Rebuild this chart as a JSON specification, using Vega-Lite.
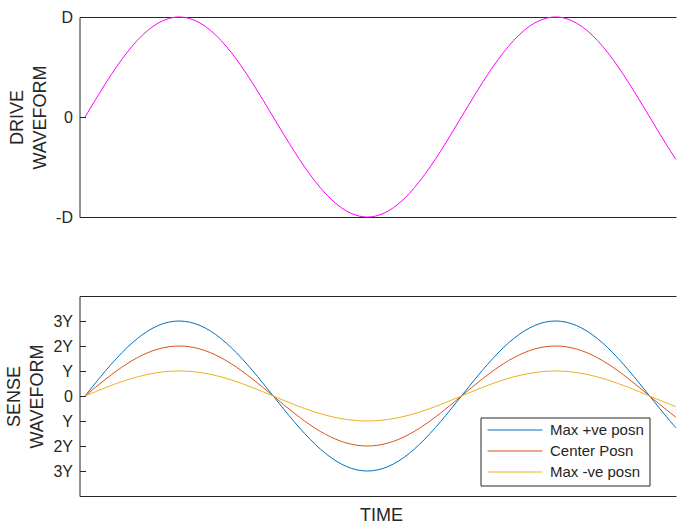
{
  "$schema": "https://vega.github.io/schema/vega-lite/v6.json",
  "padding": {"left": 4.5, "top": 9, "right": 0, "bottom": 0},
  "spacing": 71,
  "config": {
    "view": {"stroke": null},
    "font": "Liberation Sans",
    "axis": {"grid": false, "domainColor": "#262626", "tickColor": "#262626", "labelColor": "#262626", "titleColor": "#262626", "labelFont": "Liberation Sans", "titleFont": "Liberation Sans", "titleFontWeight": "normal", "labelFontSize": 16, "titleFontSize": 18, "labelOverlap": false}
  },
  "datasets": {
    "w": [
      {"t":0,"d":0,"A":0,"B":0,"C":0},
      {"t":10,"d":0.1736,"A":0.5209,"B":0.3473,"C":0.1736},
      {"t":20,"d":0.342,"A":1.0261,"B":0.684,"C":0.342},
      {"t":30,"d":0.5,"A":1.5,"B":1,"C":0.5},
      {"t":40,"d":0.6428,"A":1.9284,"B":1.2856,"C":0.6428},
      {"t":50,"d":0.766,"A":2.2981,"B":1.5321,"C":0.766},
      {"t":60,"d":0.866,"A":2.5981,"B":1.7321,"C":0.866},
      {"t":70,"d":0.9397,"A":2.8191,"B":1.8794,"C":0.9397},
      {"t":80,"d":0.9848,"A":2.9544,"B":1.9696,"C":0.9848},
      {"t":90,"d":1,"A":3,"B":2,"C":1},
      {"t":100,"d":0.9848,"A":2.9544,"B":1.9696,"C":0.9848},
      {"t":110,"d":0.9397,"A":2.8191,"B":1.8794,"C":0.9397},
      {"t":120,"d":0.866,"A":2.5981,"B":1.7321,"C":0.866},
      {"t":130,"d":0.766,"A":2.2981,"B":1.5321,"C":0.766},
      {"t":140,"d":0.6428,"A":1.9284,"B":1.2856,"C":0.6428},
      {"t":150,"d":0.5,"A":1.5,"B":1,"C":0.5},
      {"t":160,"d":0.342,"A":1.0261,"B":0.684,"C":0.342},
      {"t":170,"d":0.1736,"A":0.5209,"B":0.3473,"C":0.1736},
      {"t":180,"d":0,"A":0,"B":0,"C":0},
      {"t":190,"d":-0.1736,"A":-0.5209,"B":-0.3473,"C":-0.1736},
      {"t":200,"d":-0.342,"A":-1.0261,"B":-0.684,"C":-0.342},
      {"t":210,"d":-0.5,"A":-1.5,"B":-1,"C":-0.5},
      {"t":220,"d":-0.6428,"A":-1.9284,"B":-1.2856,"C":-0.6428},
      {"t":230,"d":-0.766,"A":-2.2981,"B":-1.5321,"C":-0.766},
      {"t":240,"d":-0.866,"A":-2.5981,"B":-1.7321,"C":-0.866},
      {"t":250,"d":-0.9397,"A":-2.8191,"B":-1.8794,"C":-0.9397},
      {"t":260,"d":-0.9848,"A":-2.9544,"B":-1.9696,"C":-0.9848},
      {"t":270,"d":-1,"A":-3,"B":-2,"C":-1},
      {"t":280,"d":-0.9848,"A":-2.9544,"B":-1.9696,"C":-0.9848},
      {"t":290,"d":-0.9397,"A":-2.8191,"B":-1.8794,"C":-0.9397},
      {"t":300,"d":-0.866,"A":-2.5981,"B":-1.7321,"C":-0.866},
      {"t":310,"d":-0.766,"A":-2.2981,"B":-1.5321,"C":-0.766},
      {"t":320,"d":-0.6428,"A":-1.9284,"B":-1.2856,"C":-0.6428},
      {"t":330,"d":-0.5,"A":-1.5,"B":-1,"C":-0.5},
      {"t":340,"d":-0.342,"A":-1.0261,"B":-0.684,"C":-0.342},
      {"t":350,"d":-0.1736,"A":-0.5209,"B":-0.3473,"C":-0.1736},
      {"t":360,"d":0,"A":0,"B":0,"C":0},
      {"t":370,"d":0.1736,"A":0.5209,"B":0.3473,"C":0.1736},
      {"t":380,"d":0.342,"A":1.0261,"B":0.684,"C":0.342},
      {"t":390,"d":0.5,"A":1.5,"B":1,"C":0.5},
      {"t":400,"d":0.6428,"A":1.9284,"B":1.2856,"C":0.6428},
      {"t":410,"d":0.766,"A":2.2981,"B":1.5321,"C":0.766},
      {"t":420,"d":0.866,"A":2.5981,"B":1.7321,"C":0.866},
      {"t":430,"d":0.9397,"A":2.8191,"B":1.8794,"C":0.9397},
      {"t":440,"d":0.9848,"A":2.9544,"B":1.9696,"C":0.9848},
      {"t":450,"d":1,"A":3,"B":2,"C":1},
      {"t":460,"d":0.9848,"A":2.9544,"B":1.9696,"C":0.9848},
      {"t":470,"d":0.9397,"A":2.8191,"B":1.8794,"C":0.9397},
      {"t":480,"d":0.866,"A":2.5981,"B":1.7321,"C":0.866},
      {"t":490,"d":0.766,"A":2.2981,"B":1.5321,"C":0.766},
      {"t":500,"d":0.6428,"A":1.9284,"B":1.2856,"C":0.6428},
      {"t":510,"d":0.5,"A":1.5,"B":1,"C":0.5},
      {"t":520,"d":0.342,"A":1.0261,"B":0.684,"C":0.342},
      {"t":530,"d":0.1736,"A":0.5209,"B":0.3473,"C":0.1736},
      {"t":540,"d":0,"A":0,"B":0,"C":0},
      {"t":550,"d":-0.1736,"A":-0.5209,"B":-0.3473,"C":-0.1736},
      {"t":560,"d":-0.342,"A":-1.0261,"B":-0.684,"C":-0.342},
      {"t":565,"d":-0.4226,"A":-1.2679,"B":-0.8452,"C":-0.4226}
    ]
  },
  "vconcat": [
    {
      "width": 596.5,
      "height": 200,
      "data": {"name": "w"},
      "layer": [
        {
          "mark": {"type": "line", "color": "#FF00FF", "strokeWidth": 1, "interpolate": "monotone"},
          "encoding": {
            "x": {"field": "t", "type": "quantitative", "scale": {"domain": [-5.3, 565.2], "nice": false, "zero": false},
                  "axis": {"orient": "bottom", "title": null, "labels": false, "ticks": false, "domain": true}},
            "y": {"field": "d", "type": "quantitative", "scale": {"domain": [-1, 1], "nice": false},
                  "axis": {"values": [-1, 0, 1], "tickCount": 20, "labelOverlap": false, "labelExpr": "datum.value == 1 ? 'D' : datum.value == 0 ? '0' : '-D'", "tickSize": -6, "labelPadding": 13, "title": ["DRIVE", "WAVEFORM"], "titleLineHeight": 23.5, "titlePadding": 6}}
          }
        },
        {
          "mark": {"type": "line", "opacity": 0},
          "encoding": {
            "x": {"field": "t", "type": "quantitative", "axis": {"orient": "top", "title": null, "labels": false, "ticks": false, "domain": true}},
            "y": {"field": "d", "type": "quantitative"}
          }
        }
      ],
      "resolve": {"axis": {"x": "independent"}}
    },
    {
      "width": 596.5,
      "height": 200,
      "data": {"name": "w"},
      "transform": [{"fold": ["A", "B", "C"], "as": ["s", "v"]}],
      "layer": [
        {
          "mark": {"type": "line", "strokeWidth": 1, "interpolate": "monotone"},
          "encoding": {
            "x": {"field": "t", "type": "quantitative", "scale": {"domain": [-5.3, 565.2], "nice": false, "zero": false},
                  "axis": {"orient": "bottom", "title": "TIME", "labels": false, "ticks": false, "domain": true, "titleX": 301.5, "titlePadding": 10}},
            "y": {"field": "v", "type": "quantitative", "scale": {"domain": [-4, 4], "nice": false},
                  "axis": {"values": [-3, -2, -1, 0, 1, 2, 3], "tickCount": 20, "labelOverlap": false, "labelExpr": "datum.value == 0 ? '0' : abs(datum.value) == 1 ? 'Y' : abs(datum.value) + 'Y'", "tickSize": -6, "labelPadding": 13, "title": ["SENSE", "WAVEFORM"], "titleLineHeight": 23.5, "titlePadding": 6}},
            "color": {"field": "s", "type": "nominal",
                      "scale": {"domain": ["A", "B", "C"], "range": ["#0072BD", "#D95319", "#EDB120"]},
                      "legend": {"orient": "none", "legendX": 401, "legendY": 400.5, "title": null,
                                 "labelExpr": "datum.label == 'A' ? 'Max +ve posn' : datum.label == 'B' ? 'Center Posn' : 'Max -ve posn'",
                                 "symbolType": "M-1,0H9", "symbolSize": 121, "symbolStrokeWidth": 1,
                                 "labelFontSize": 15, "labelFont": "Liberation Sans", "labelColor": "#262626", "labelOffset": 49.5,
                                 "strokeColor": "#262626", "fillColor": "white", "padding": 5, "rowPadding": 5, "cornerRadius": 0}}
          }
        },
        {
          "mark": {"type": "line", "opacity": 0},
          "encoding": {
            "x": {"field": "t", "type": "quantitative", "axis": {"orient": "top", "title": null, "labels": false, "ticks": false, "domain": true}},
            "y": {"field": "v", "type": "quantitative"}
          }
        }
      ],
      "resolve": {"axis": {"x": "independent"}}
    }
  ]
}
